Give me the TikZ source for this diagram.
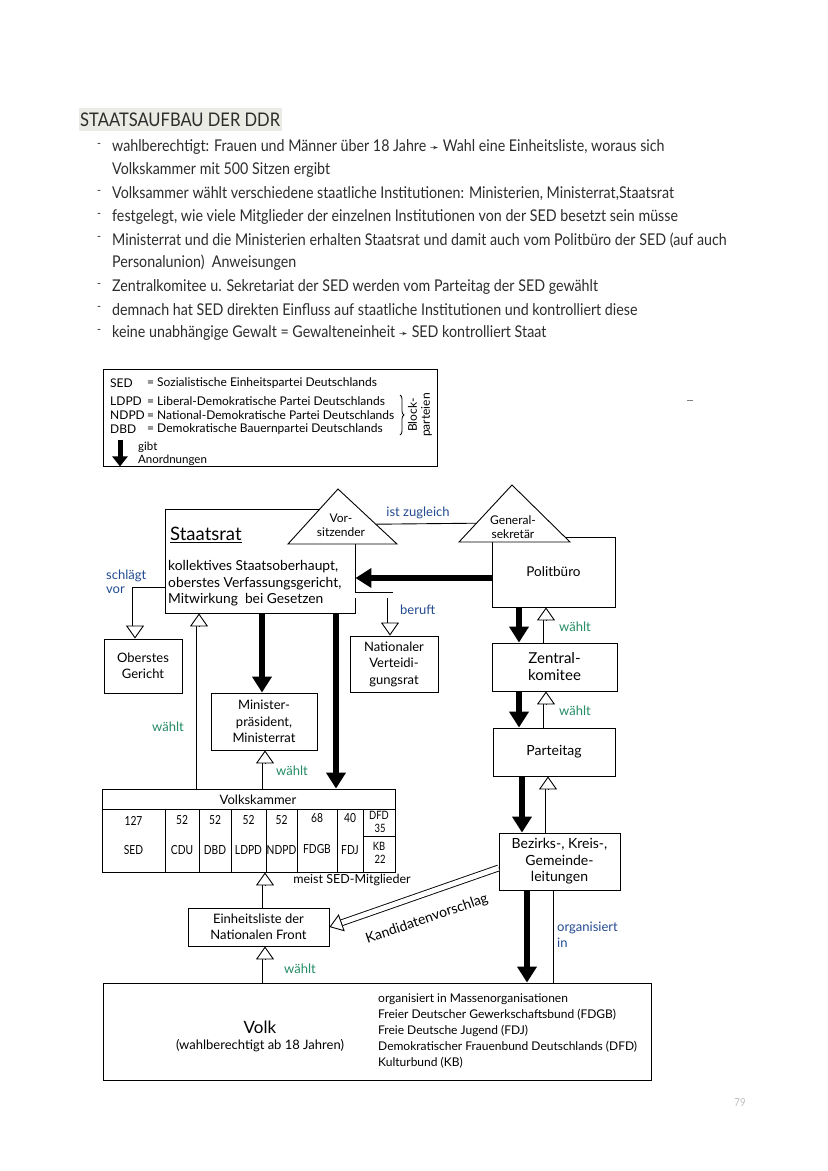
\documentclass[tikz,border=0pt]{standalone}
\usepackage{fontspec}
\setmainfont{Lato}
\newfontfamily\bodyf{Lato}[FakeStretch=0.88]
\newfontfamily\handf{Lato}
\newfontfamily\handc{Lato}[FakeStretch=0.82]
\newfontfamily\dejavu{DejaVu Sans}
\usetikzlibrary{arrows.meta,calc,decorations.pathreplacing}
\definecolor{inkblue}{RGB}{35,75,145}
\definecolor{inkgreen}{RGB}{35,140,100}
\definecolor{txt}{RGB}{45,45,45}
\definecolor{titlebg}{RGB}{235,235,229}
\definecolor{pagegray}{RGB}{190,190,190}
\tikzset{
  bul/.style={anchor=west, inner sep=0pt, text=txt, font=\bodyf\fontsize{16.2}{18}\selectfont},
  bdashnode/.style={anchor=center, inner sep=0pt, text=txt, font=\bodyf\fontsize{12}{14}\selectfont},
  box/.style={draw, line width=0.9pt, inner sep=1pt, align=center, font=\handf\fontsize{13}{16.5}\selectfont},
  hand/.style={inner sep=0pt, font=\handf\fontsize{13}{16.5}\selectfont},
  bluelab/.style={hand, text=inkblue},
  greenlab/.style={hand, text=inkgreen},
  tarrow/.style={line width=6pt, -{Triangle[length=16pt,width=19pt]}},
  hshaft/.style={draw=black, double=white, double distance=5pt, line width=0.9pt, line join=miter},
  hhead/.style={line width=0.9pt, -{Triangle[length=13pt,width=18pt,fill=white]}},
}
\begin{document}
\begin{tikzpicture}[x=1pt,y=-1pt]
\useasboundingbox (0,0) rectangle (828,1171);
\fill[white] (0,0) rectangle (828,1171);

% ---------- title and bullets ----------
\fill[titlebg] (79,108) rectangle (282,131);
\node[anchor=west, inner sep=0pt, text=txt, font=\bodyf\fontsize{18.8}{21}\selectfont] (title) at (80,119.5) {STAATSAUFBAU DER DDR};

\node[bdashnode] (d1) at (99,145) {-};
\node[bul] (b1) at (112,147) {wahlberechtigt: Frauen und Männer über 18 Jahre {\dejavu\fontsize{11}{12}\selectfont ➛} Wahl eine Einheitsliste, woraus sich};
\node[bul] (b1b) at (112,170) {Volkskammer mit 500 Sitzen ergibt};
\node[bdashnode] (d2) at (99,192) {-};
\node[bul] (b2) at (112,194) {Volksammer wählt verschiedene staatliche Institutionen: Ministerien, Ministerrat,Staatsrat};
\node[bdashnode] (d3) at (99,215) {-};
\node[bul] (b3) at (112,217) {festgelegt, wie viele Mitglieder der einzelnen Institutionen von der SED besetzt sein müsse};
\node[bdashnode] (d4) at (99,238) {-};
\node[bul] (b4) at (112,240) {Ministerrat und die Ministerien erhalten Staatsrat und damit auch vom Politbüro der SED (auf auch};
\node[bul] (b4b) at (112,263) {Personalunion)\ \ Anweisungen};
\node[bdashnode] (d5) at (99,285) {-};
\node[bul] (b5) at (112,287) {Zentralkomitee u. Sekretariat der SED werden vom Parteitag der SED gewählt};
\node[bdashnode] (d6) at (99,308) {-};
\node[bul] (b6) at (112,310) {demnach hat SED direkten Einfluss auf staatliche Institutionen und kontrolliert diese};
\node[bdashnode] (d7) at (99,331) {-};
\node[bul] (b7) at (112,333) {keine unabhängige Gewalt = Gewalteneinheit {\dejavu\fontsize{11}{12}\selectfont ➛} SED kontrolliert Staat};

% ---------- legend ----------
\node[draw, line width=0.9pt, minimum width=334pt, minimum height=97pt, inner sep=0pt] (legend) at (270,417.5) {};
\tikzset{leg/.style={anchor=west, inner sep=0pt, font=\handf\fontsize{12}{13}\selectfont}}
\node[leg] (l1a) at (110,383) {SED};
\node[leg] (l1b) at (147,383) {= Sozialistische Einheitspartei Deutschlands};
\node[leg] (l2a) at (110,401) {LDPD};
\node[leg] (l2b) at (147,401) {= Liberal-Demokratische Partei Deutschlands};
\node[leg] (l3a) at (110,415) {NDPD};
\node[leg] (l3b) at (147,415) {= National-Demokratische Partei Deutschlands};
\node[leg] (l4a) at (110,429) {DBD};
\node[leg] (l4b) at (147,429) {= Demokratische Bauernpartei Deutschlands};
\draw[line width=0.8pt, decorate, decoration={brace, amplitude=4pt}] (400,395) -- (400,435);
\node[inner sep=0pt, rotate=90, align=center, font=\handf\fontsize{12}{13}\selectfont] (block) at (420,415) {Block-\\parteien};
\coordinate (c120) at (120,0);
\coordinate (r440) at (0,440);
\draw[line width=5pt, -{Triangle[length=10pt,width=15pt]}] (r440 -| c120) -- (legend.south -| c120);
\node[leg, font=\handf\fontsize{11.5}{12}\selectfont] (gibt) at (138,447) {gibt};
\node[leg, font=\handf\fontsize{11.5}{12}\selectfont] (anord) at (138,460) {Anordnungen};

% tiny stray mark
\draw[line width=0.6pt, gray] (687,400) -- (693,400);

% ---------- boxes ----------
\node[box, minimum width=190pt, minimum height=104pt] (staatsrat) at (260,561) {};
\node[anchor=west, inner sep=0pt, font=\handf\fontsize{18.5}{20}\selectfont] (srtitle) at (170,535) {\underline{Staatsrat}};
\node[anchor=north west, inner sep=0pt, align=left, font=\handf\fontsize{13.8}{16.8}\selectfont] (srtext) at (168,560) {kollektives Staatsoberhaupt,\\oberstes Verfassungsgericht,\\Mitwirkung\ \ bei Gesetzen};

\coordinate (vA) at (338,489);
\coordinate (vL) at (288,544);
\coordinate (vR) at (397,544);
\draw[line width=0.9pt, fill=white] (vA) -- (vL) -- (vR) -- cycle;
\node[hand, align=center, font=\handf\fontsize{12}{14}\selectfont] (vors) at (341,525) {Vor-\\sitzender};

\node[box, minimum width=123pt, minimum height=70pt, font=\handf\fontsize{13.5}{16}\selectfont] (politbuero) at (553.5,572) {Politbüro};
\coordinate (gA) at (512,485);
\coordinate (gL) at (459,542);
\coordinate (gR) at (570,542);
\draw[line width=0.9pt, fill=white] (gA) -- (gL) -- (gR) -- cycle;
\node[hand, align=center, font=\handf\fontsize{12}{14}\selectfont] (gensek) at (513,527) {General-\\sekretär};

\draw[line width=0.9pt] ($(vA)!0.64!(vR)$) -- ($(gA)!0.67!(gL)$);
\node[bluelab] (istzug) at (418,513) {ist zugleich};

\node[box, minimum width=78pt, minimum height=54pt] (oberst) at (143,666) {Oberstes\\Gericht};
\node[box, minimum width=88pt, minimum height=56pt] (nvr) at (394,664) {Nationaler\\Verteidi-\\gungsrat};
\node[box, minimum width=106pt, minimum height=57pt] (minister) at (264,721.5) {Minister-\\präsident,\\Ministerrat};
\node[box, minimum width=125pt, minimum height=48pt, font=\handf\fontsize{15}{17}\selectfont] (zk) at (554.5,667) {Zentral-\\komitee};
\node[box, minimum width=122pt, minimum height=48pt, font=\handf\fontsize{14}{16}\selectfont] (parteitag) at (554,752) {Parteitag};
\node[box, minimum width=121pt, minimum height=57pt, font=\handf\fontsize{14}{16.5}\selectfont] (bezirks) at (559.5,861.5) {Bezirks-, Kreis-,\\Gemeinde-\\leitungen};
\node[box, minimum width=141pt, minimum height=38pt, font=\handf\fontsize{13}{16}\selectfont] (einheit) at (258.5,927) {Einheitsliste der\\Nationalen Front};

% Volkskammer table
\node[box, minimum width=293pt, minimum height=83pt] (vk) at (248.5,830.5) {};
\coordinate (r809) at (0,809);
\coordinate (r836) at (0,836);
\draw[line width=0.9pt] (vk.west |- r809) -- (vk.east |- r809);
\foreach \xx/\nm in {165/ca,199/cb,231/cc,266/cd,297/ce,337/cf,363/cg} {
  \coordinate (\nm) at (\xx,0);
  \draw[line width=0.9pt] (r809 -| \nm) -- (vk.south -| \nm);
}
\draw[line width=0.9pt] (r836 -| cg) -- (r836 -| vk.east);
\node[hand, font=\handf\fontsize{13}{15}\selectfont] (vktitle) at (258,799.5) {Volkskammer};
\tikzset{vkc/.style={hand, font=\handc\fontsize{12.5}{14}\selectfont}}
\node[vkc] (n1) at (133.5,821) {127};  \node[vkc] (p1) at (133.5,850) {SED};
\node[vkc] (n2) at (182,820) {52};     \node[vkc] (p2) at (182,850) {CDU};
\node[vkc] (n3) at (215,820) {52};     \node[vkc] (p3) at (215,850) {DBD};
\node[vkc] (n4) at (248.5,820) {52};   \node[vkc] (p4) at (248.5,850) {LDPD};
\node[vkc] (n5) at (281.5,820) {52};   \node[vkc] (p5) at (281.5,850) {NDPD};
\node[vkc] (n6) at (317,818) {68};     \node[vkc] (p6) at (317,849) {FDGB};
\node[vkc] (n7) at (350,818) {40};     \node[vkc] (p7) at (350,850) {FDJ};
\node[vkc, align=center, font=\handc\fontsize{11.5}{12.5}\selectfont] (n8) at (379,822) {DFD\\\ 35};
\node[vkc, align=center, font=\handc\fontsize{11.5}{12.5}\selectfont] (p8) at (379,853) {KB\\\ 22};

% Volk
\node[box, minimum width=548pt, minimum height=97pt] (volk) at (377,1031.5) {};
\node[hand, font=\handf\fontsize{17}{19}\selectfont] (volkt) at (260,1027) {Volk};
\node[hand] (volkw) at (260,1046) {(wahlberechtigt ab 18 Jahren)};
\node[anchor=north west, inner sep=0pt, align=left, font=\handf\fontsize{12}{16.2}\selectfont] (massen) at (378,993) {organisiert in Massenorganisationen\\Freier Deutscher Gewerkschaftsbund (FDGB)\\Freie Deutsche Jugend (FDJ)\\Demokratischer Frauenbund Deutschlands (DFD)\\Kulturbund (KB)};

% ---------- helper coordinates ----------
\coordinate (r578) at (0,578);
\coordinate (r590) at (0,590);
\coordinate (r595) at (0,595);
\coordinate (r868) at (0,868);
\coordinate (r927) at (0,927);
\coordinate (c135) at (135,0);
\coordinate (c390) at (390,0);
\coordinate (c199) at (199,0);
\coordinate (c262) at (262,0);
\coordinate (c265) at (265,0);
\coordinate (c336) at (336,0);
\coordinate (c519) at (519,0);
\coordinate (c522) at (522,0);
\coordinate (c527) at (527,0);
\coordinate (c546) at (546,0);
\coordinate (c548) at (548,0);
\coordinate (c553) at (553,0);

% ---------- thick (black) arrows ----------
\draw[tarrow] (politbuero.west |- r578) -- (staatsrat.east |- r578);
\draw[tarrow] (staatsrat.south -| c262) -- (minister.north -| c262);
\draw[tarrow] (staatsrat.south -| c336) -- (vk.north -| c336);
\draw[tarrow] (politbuero.south -| c519) -- (zk.north -| c519);
\draw[tarrow] (zk.south -| c519) -- (parteitag.north -| c519);
\draw[tarrow] (parteitag.south -| c522) -- (bezirks.north -| c522);
\draw[tarrow] (bezirks.south -| c527) -- (volk.north -| c527);
\draw[line width=0.9pt] (bezirks.south -| c553) -- (volk.north -| c553);

% ---------- hollow arrows ----------
% schlaegt vor
\coordinate (h1t) at (oberst.north -| c135);
\draw[hshaft] (staatsrat.west |- r590) -| ($(h1t)+(0,-13)$);
\draw[hhead] ($(h1t)+(0,-13)$) -- (h1t);
% beruft
\coordinate (h2t) at (nvr.north -| c390);
\draw[hshaft] (staatsrat.east |- r595) -| ($(h2t)+(0,-13)$);
\draw[hhead] ($(h2t)+(0,-13)$) -- (h2t);
% Volkskammer waehlt Staatsrat
\coordinate (h3t) at (staatsrat.south -| c199);
\draw[hshaft] (vk.north -| c199) -- ($(h3t)+(0,13)$);
\draw[hhead] ($(h3t)+(0,13)$) -- (h3t);
% Volkskammer waehlt Ministerrat
\coordinate (h4t) at (minister.south -| c265);
\draw[hshaft] (vk.north -| c265) -- ($(h4t)+(0,13)$);
\draw[hhead] ($(h4t)+(0,13)$) -- (h4t);
% Einheitsliste -> Volkskammer
\coordinate (h5t) at (vk.south -| c265);
\draw[hshaft] (einheit.north -| c265) -- ($(h5t)+(0,13)$);
\draw[hhead] ($(h5t)+(0,13)$) -- (h5t);
% Volk waehlt Einheitsliste
\coordinate (h6t) at (einheit.south -| c265);
\draw[hshaft] (volk.north -| c265) -- ($(h6t)+(0,13)$);
\draw[hhead] ($(h6t)+(0,13)$) -- (h6t);
% ZK -> Politbuero
\coordinate (h7t) at (politbuero.south -| c546);
\draw[hshaft] (zk.north -| c546) -- ($(h7t)+(0,13)$);
\draw[hhead] ($(h7t)+(0,13)$) -- (h7t);
% Parteitag -> ZK
\coordinate (h8t) at (zk.south -| c546);
\draw[hshaft] (parteitag.north -| c546) -- ($(h8t)+(0,13)$);
\draw[hhead] ($(h8t)+(0,13)$) -- (h8t);
% Bezirks -> Parteitag
\coordinate (h9t) at (parteitag.south -| c548);
\draw[hshaft] (bezirks.north -| c548) -- ($(h9t)+(0,13)$);
\draw[hhead] ($(h9t)+(0,13)$) -- (h9t);
% Kandidatenvorschlag
\coordinate (h10s) at (bezirks.west |- r868);
\coordinate (h10t) at (einheit.east |- r927);
\draw[hshaft] (h10s) -- ($(h10t)!13pt!(h10s)$);
\draw[hhead] ($(h10t)!13pt!(h10s)$) -- (h10t);

% ---------- labels ----------
\node[bluelab, anchor=west] (schl1) at (106,576) {schlägt};
\node[bluelab, anchor=west] (schl2) at (106,590) {vor};
\node[bluelab, anchor=west] (beruft) at (400,610) {beruft};
\node[greenlab] (w1) at (168,727) {wählt};
\node[greenlab] (w2) at (292,771) {wählt};
\node[greenlab] (w3) at (300,969) {wählt};
\node[greenlab] (w4) at (575,627) {wählt};
\node[greenlab] (w5) at (575,711) {wählt};
\node[hand, font=\handf\fontsize{12.5}{14}\selectfont] (meist) at (352,880) {meist SED-Mitglieder};
\node[hand, rotate=19, font=\handf\fontsize{14}{16}\selectfont] (kand) at (427,919) {Kandidatenvorschlag};
\node[bluelab, anchor=west] (org1) at (557,928) {organisiert};
\node[bluelab, anchor=west] (org2) at (557,943) {in};

\node[inner sep=0pt, text=pagegray, font=\bodyf\fontsize{11}{12}\selectfont] (pnum) at (740,1103) {79};
\end{tikzpicture}
\end{document}
